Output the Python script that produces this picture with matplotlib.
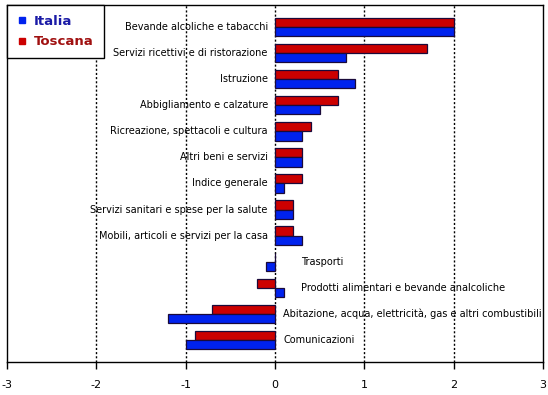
import numpy as np
import matplotlib.pyplot as plt
from matplotlib.lines import Line2D

categories = [
    "Bevande alcoliche e tabacchi",
    "Servizi ricettivi e di ristorazione",
    "Istruzione",
    "Abbigliamento e calzature",
    "Ricreazione, spettacoli e cultura",
    "Altri beni e servizi",
    "Indice generale",
    "Servizi sanitari e spese per la salute",
    "Mobili, articoli e servizi per la casa",
    "Trasporti",
    "Prodotti alimentari e bevande analcoliche",
    "Abitazione, acqua, elettricità, gas e altri combustibili",
    "Comunicazioni",
]
toscana = [2.0, 1.7, 0.7, 0.7, 0.4, 0.3, 0.3, 0.2, 0.2, 0.0, -0.2, -0.7, -0.9]
italia = [2.0, 0.8, 0.9, 0.5, 0.3, 0.3, 0.1, 0.2, 0.3, -0.1, 0.1, -1.2, -1.0]
xticks = [-3, -2, -1, 0, 1, 2, 3]

RED = "#cc0000"
BLUE = "#0022ee"
EDGE = "#1a0a3a"

fig = plt.figure(figsize=(5.48, 3.95), dpi=100)
ax = fig.add_axes([7 / 548, 33 / 395, 536 / 548, 357 / 395])

y = np.arange(len(categories))
h = 0.35
ax.barh(y - h / 2, toscana, height=h, color=RED, edgecolor=EDGE, linewidth=0.9, zorder=3)
ax.barh(y + h / 2, italia, height=h, color=BLUE, edgecolor=EDGE, linewidth=0.9, zorder=3)

# category labels next to the zero line
for i, name in enumerate(categories):
    lo = min(toscana[i], italia[i])
    if lo >= 0:
        ax.text(-0.08, i, name, ha="right", va="center", fontsize=7, zorder=4)
    else:
        off = 0.09 if lo <= -0.5 else 0.29
        ax.text(off, i, name, ha="left", va="center", fontsize=7, zorder=4)

for xv in [-2, -1, 0, 1, 2]:
    ax.axvline(xv, color="black", linestyle=(0, (1.5, 1.5)), linewidth=1, zorder=1)

ax.set_xlim(-3, 3)
ax.set_ylim(len(categories) - 1 + 0.85, -0.85)
ax.set_xticks(xticks)
ax.set_xticklabels([str(t) for t in xticks], fontsize=8)
ax.set_yticks([])
ax.tick_params(axis="x", direction="out", length=5, width=1, pad=8)
for s in ax.spines.values():
    s.set_color("black")
    s.set_linewidth(1)

handles = [
    Line2D([], [], marker="s", linestyle="", color=BLUE, markersize=5),
    Line2D([], [], marker="s", linestyle="", color=RED, markersize=5),
]
leg = ax.legend(handles, ["Italia", "Toscana"], loc="upper left",
                bbox_to_anchor=(0, 1), borderaxespad=0, fancybox=False,
                edgecolor="black", framealpha=1, handlelength=0.8,
                handletextpad=0.5, borderpad=0.75, labelspacing=0.55,
                prop={"weight": "bold", "size": 9.5})
leg.get_frame().set_linewidth(1)
leg.get_texts()[0].set_color("#1a1aa6")
leg.get_texts()[1].set_color("#a01010")

plt.savefig("out.png", dpi=100)
